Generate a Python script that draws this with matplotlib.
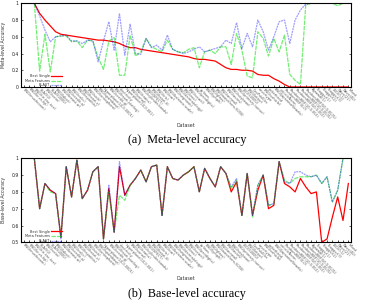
import matplotlib
matplotlib.use('Agg')
import matplotlib.pyplot as plt
import numpy as np

datasets = ['BNG(mushroom)', 'BNG(kr-vs-kp)', 'BNG(tic-tac-toe)', 'SEA(50)', 'BNG(vote)', 'SEA(50000)',
            'BNG(labor)', 'BNG(breast-w)', 'BNG(credit-a)', 'BNG(colic)', 'BNG(hepatitis)', 'BNG(heart-c)',
            'BNG(sick)', 'BNG(ionosphere)', 'BNG(spambase)', 'Hyperplane(10;0.0001)', 'BNG(credit-g)',
            'BNG(heart-statlog)', 'electricity', 'Hyperplane(10;0.001)', 'BNG(sonar)', 'BNG(trains)',
            'BNG(cylinder-bands)', 'BNG(SPECT)', 'BNG(heart-h)', 'BNG(iris)', 'BNG(car)', 'BNG(balance-scale)',
            'BNG(segment)', 'BNG(dermatology)', 'BNG(zoo)', 'BNG(vowel)', 'BNG(pendigits)', 'airlines',
            'BNG(lymph)', 'BNG(glass)', 'BNG(waveform-5000)', 'BNG(anneal)', 'BNG(autos)', 'BNG(soybean)',
            'BNG(primary-tumor)', 'LED(50000)', 'BNG(letter)', 'CovPokElec', 'covertype', 'BNG(vehicle)',
            'pokerhand', 'BNG(JapaneseVowels)', 'vehicleNorm', 'RandomRBF(0;0)', 'RandomRBF(10;0.001)',
            'RandomRBF(50;0.001)', 'RandomRBF(10;0.0001)', 'RandomRBF(50;0.0001)', 'Agrawal(1)', 'Stagger(1)',
            'Stagger(2)', 'Stagger(3)', 'LED(0.1)', 'Wave(21)', 'Wave(40)', 'Mixed']

series_names = ['Best Single', 'Meta Features', 'BLAST']

meta_best = [1, 1, 1, 0.88, 0.80, 0.73, 0.66, 0.63, 0.62, 0.61, 0.60, 0.59, 0.58, 0.57, 0.56, 0.56,
             0.55, 0.54, 0.52, 0.49, 0.47, 0.47, 0.45, 0.44, 0.43, 0.42, 0.41, 0.40, 0.39, 0.38, 0.37, 0.36,
             0.34, 0.33, 0.33, 0.32, 0.31, 0.27, 0.23, 0.21, 0.21, 0.20, 0.20, 0.19, 0.15, 0.14, 0.14, 0.10,
             0.07, 0.03, 0, 0, 0, 0, 0, 0, 0, 0, 0, 0, 0, 0]
meta_mf = [1, 1, 1, 0.19, 0.63, 0.18, 0.60, 0.61, 0.61, 0.54, 0.55, 0.47, 0.56, 0.55, 0.35, 0.21,
           0.55, 0.59, 0.14, 0.14, 0.62, 0.37, 0.42, 0.58, 0.48, 0.45, 0.42, 0.56, 0.45, 0.42, 0.41, 0.45,
           0.47, 0.23, 0.42, 0.44, 0.40, 0.48, 0.48, 0.27, 0.64, 0.44, 0.13, 0.11, 0.66, 0.58, 0.37, 0.58,
           0.42, 0.62, 0.15, 0.08, 0.03, 0.98, 1, 1, 1, 1, 1, 0.97, 1, 1]
meta_blast = [1, 1, 1, 0.85, 0.68, 0.54, 0.60, 0.61, 0.62, 0.55, 0.55, 0.52, 0.56, 0.55, 0.30, 0.55,
              0.78, 0.44, 0.88, 0.38, 0.75, 0.40, 0.39, 0.58, 0.47, 0.50, 0.44, 0.62, 0.45, 0.42, 0.40, 0.42,
              0.45, 0.48, 0.42, 0.44, 0.46, 0.48, 0.56, 0.52, 0.77, 0.46, 0.64, 0.48, 0.80, 0.66, 0.44, 0.60,
              0.78, 0.80, 0.52, 0.80, 0.92, 0.99, 1, 1, 1, 1, 1, 1, 1, 1]

base_best = [1, 1, 1, 0.70, 0.85, 0.81, 0.79, 0.53, 0.95, 0.77, 0.99, 0.76, 0.81, 0.92, 0.95, 0.52,
             0.82, 0.56, 0.95, 0.78, 0.84, 0.88, 0.93, 0.86, 0.95, 0.96, 0.66, 0.95, 0.88, 0.87, 0.90, 0.92,
             0.95, 0.80, 0.94, 0.88, 0.83, 0.95, 0.91, 0.80, 0.86, 0.66, 0.91, 0.66, 0.81, 0.90, 0.70, 0.72,
             0.98, 0.85, 0.83, 0.80, 0.88, 0.83, 0.79, 0.80, 0.50, 0.52, 0.65, 0.77, 0.63, 0.85]
base_mf = [1, 1, 1, 0.70, 0.85, 0.80, 0.79, 0.53, 0.95, 0.77, 0.99, 0.76, 0.81, 0.92, 0.95, 0.52,
           0.80, 0.56, 0.78, 0.75, 0.84, 0.88, 0.93, 0.86, 0.95, 0.96, 0.66, 0.95, 0.88, 0.87, 0.90, 0.92,
           0.95, 0.80, 0.94, 0.88, 0.83, 0.95, 0.91, 0.82, 0.87, 0.66, 0.91, 0.65, 0.84, 0.90, 0.72, 0.73,
           0.98, 0.87, 0.85, 0.88, 0.89, 0.89, 0.89, 0.90, 0.85, 0.89, 0.74, 0.81, 1.0, 1.0]
base_blast = [1, 1, 1, 0.70, 0.85, 0.81, 0.79, 0.52, 0.95, 0.77, 0.99, 0.76, 0.81, 0.92, 0.95, 0.52,
              0.84, 0.56, 0.98, 0.78, 0.84, 0.88, 0.93, 0.86, 0.95, 0.96, 0.66, 0.95, 0.88, 0.87, 0.90, 0.92,
              0.95, 0.80, 0.94, 0.88, 0.83, 0.95, 0.91, 0.83, 0.88, 0.66, 0.91, 0.66, 0.84, 0.90, 0.72, 0.73,
              0.98, 0.86, 0.85, 0.92, 0.92, 0.90, 0.89, 0.90, 0.85, 0.89, 0.74, 0.81, 1.0, 1.0]

fig = plt.figure(figsize=(3.67, 3.0), dpi=100)
W, H = 367.0, 300.0
ax1 = fig.add_axes([21 / W, 1 - 87 / H, 330 / W, (87 - 3.3) / H])
ax2 = fig.add_axes([21 / W, 1 - 242.3 / H, 330 / W, (242.3 - 158.3) / H])

x = np.arange(len(datasets))
panels = [
    (ax1, meta_best, meta_mf, meta_blast, (0, 1), [0, 0.2, 0.4, 0.6, 0.8, 1],
     ['0', '0.2', '0.4', '0.6', '0.8', '1'], 'Meta-level Accuracy', 125, '(a)  Meta-level accuracy', 139.5),
    (ax2, base_best, base_mf, base_blast, (0.5, 1), [0.5, 0.6, 0.7, 0.8, 0.9, 1],
     ['0.5', '0.6', '0.7', '0.8', '0.9', '1'], 'Base-level Accuracy', 279, '(b)  Base-level accuracy', 294.5),
]

for ax, best, mf, blast, ylim, yt, ytl, ylab, xly, cap, capy in panels:
    ax.plot(x, best, color='#ff0000', lw=0.9, label=series_names[0], zorder=3)
    ax.plot(x, mf, color='#00e000', lw=0.9, ls=(0, (3.5, 0.8)), alpha=0.55, label=series_names[1], zorder=4)
    ax.plot(x, blast, color='#0000ff', lw=0.9, ls=(0, (1.6, 0.6)), alpha=0.38, label=series_names[2], zorder=5)
    ax.set_xlim(-0.5, len(datasets) - 0.5)
    ax.set_ylim(*ylim)
    ax.set_yticks(yt)
    ax.set_yticklabels(ytl)
    ax.set_xticks(x)
    ax.set_xticklabels(datasets, rotation=-45, ha='left', va='center', rotation_mode='anchor',
                       fontsize=2.5, color='#555555')
    ax.tick_params(axis='x', direction='in', length=1.3, width=0.5, pad=1.5)
    ax.tick_params(axis='y', direction='in', length=1.5, width=0.5, labelsize=3.3, pad=1.5,
                   right=True, colors='#222222')
    for sp in ax.spines.values():
        sp.set_linewidth(0.8)
        sp.set_zorder(10)
    ax.set_ylabel(ylab, fontsize=3.3, color='#333333')
    ax.yaxis.set_label_coords(-15 / 330, 0.5)
    leg = ax.legend(loc='lower right', bbox_to_anchor=(0.125, -0.005), frameon=False, fontsize=2.5,
                    markerfirst=False, handlelength=3.2, handletextpad=0.4, labelspacing=0.15,
                    borderpad=0, borderaxespad=0)
    for t in leg.get_texts():
        t.set_color('#333333')
    fig.text(186 / W, 1 - xly / H, 'Dataset', ha='center', va='center', fontsize=3.4, color='#333333')
    fig.text(187 / W, 1 - capy / H, cap, ha='center', va='center', fontsize=8.7,
             family='Liberation Serif')

fig.savefig('out.png', dpi=100)
